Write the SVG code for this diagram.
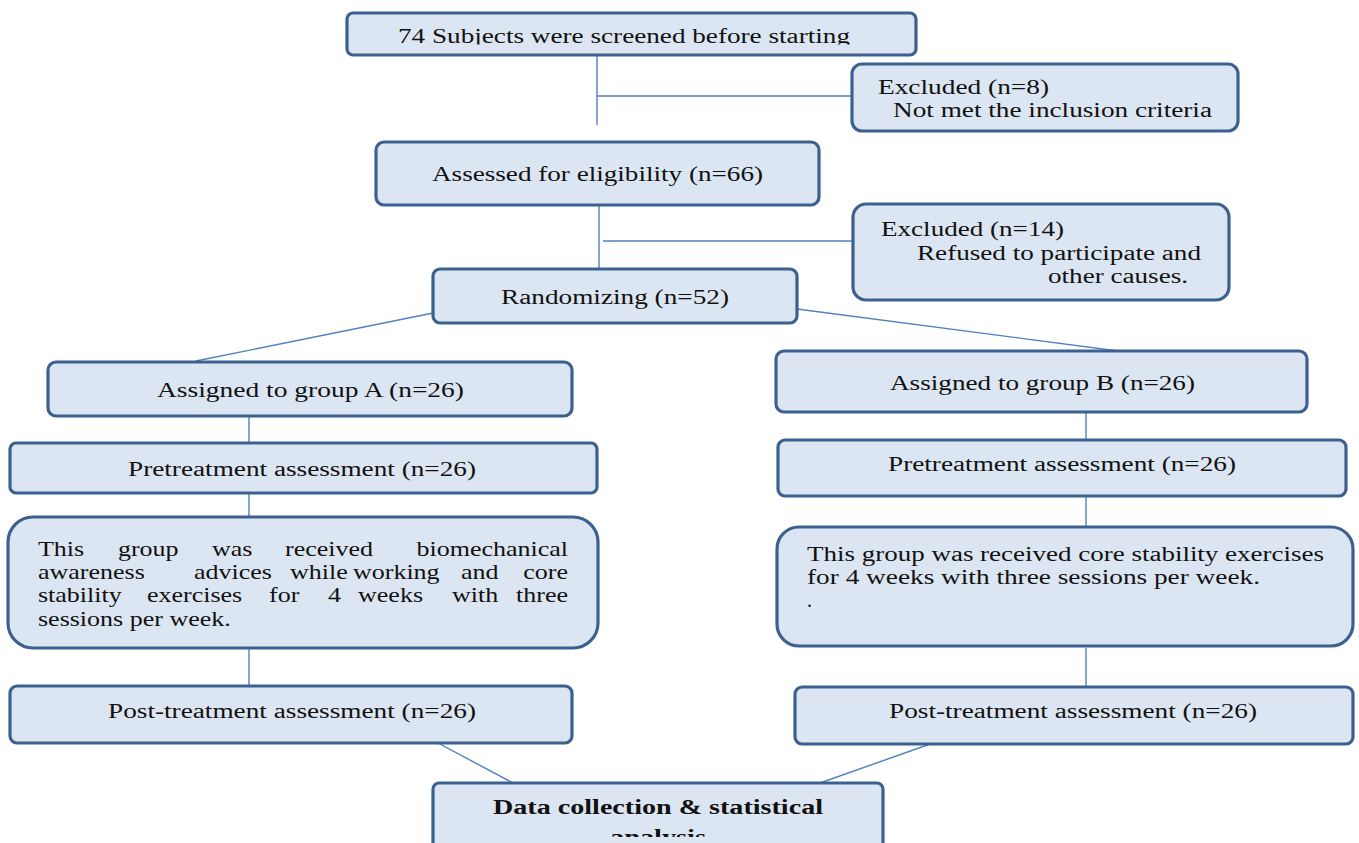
<svg xmlns="http://www.w3.org/2000/svg" width="1359" height="843" viewBox="0 0 1359 843">
<defs>
<style>
.box{fill:#dce6f2;stroke:#3c6190;stroke-width:3.2}
.ln{stroke:#4f81bd;stroke-width:1.4;fill:none}
text{font-family:"Liberation Serif","Times New Roman",serif;font-size:20px;fill:#111}
.c{text-anchor:middle}
.b{font-weight:bold}
</style>
<clipPath id="clip1"><rect x="340" y="10" width="600" height="34.5"/></clipPath>
<clipPath id="clip2"><rect x="430" y="780" width="460" height="57"/></clipPath>
</defs>
<rect width="1359" height="843" fill="#fff"/>
<g id="connectors">
<line class="ln" x1="597" y1="55" x2="597" y2="125"/>
<line class="ln" x1="597" y1="96" x2="852" y2="96"/>
<line class="ln" x1="599" y1="205" x2="599" y2="269"/>
<line class="ln" x1="603" y1="241" x2="853" y2="241"/>
<line class="ln" x1="443" y1="311" x2="196" y2="361"/>
<line class="ln" x1="797" y1="309" x2="1118" y2="351"/>
<line class="ln" x1="249" y1="416" x2="249" y2="443"/>
<line class="ln" x1="249" y1="493" x2="249" y2="518"/>
<line class="ln" x1="249" y1="648" x2="249" y2="686"/>
<line class="ln" x1="1086" y1="412" x2="1086" y2="440"/>
<line class="ln" x1="1086" y1="496" x2="1086" y2="527"/>
<line class="ln" x1="1086" y1="648" x2="1086" y2="687"/>
<line class="ln" x1="438" y1="743" x2="513" y2="783"/>
<line class="ln" x1="933" y1="743" x2="820" y2="783"/>
</g>
<g id="screened">
<rect class="box" x="347" y="13" width="569" height="42" rx="6"/>
<text class="c" x="624" y="43" clip-path="url(#clip1)" textLength="452" lengthAdjust="spacingAndGlyphs">74 Subjects were screened before starting</text>
</g>
<g id="excluded8">
<rect class="box" x="852" y="64" width="386" height="67" rx="10"/>
<text x="878" y="94" textLength="171" lengthAdjust="spacingAndGlyphs">Excluded (n=8)</text>
<text x="893" y="117" textLength="319" lengthAdjust="spacingAndGlyphs">Not met the inclusion criteria</text>
</g>
<g id="assessed">
<rect class="box" x="376" y="142" width="443" height="63" rx="8"/>
<text x="432" y="181" textLength="331" lengthAdjust="spacingAndGlyphs">Assessed for eligibility (n=66)</text>
</g>
<g id="excluded14">
<rect class="box" x="853" y="204" width="376" height="96" rx="13"/>
<text x="881" y="236" textLength="183" lengthAdjust="spacingAndGlyphs">Excluded (n=14)</text>
<text x="917" y="260" textLength="284" lengthAdjust="spacingAndGlyphs">Refused to participate and</text>
<text x="1048" y="283" textLength="140" lengthAdjust="spacingAndGlyphs">other causes.</text>
</g>
<g id="randomizing">
<rect class="box" x="433" y="269" width="364" height="54" rx="7"/>
<text x="501" y="304" textLength="228" lengthAdjust="spacingAndGlyphs">Randomizing (n=52)</text>
</g>
<g id="groupA">
<rect class="box" x="48" y="362" width="524" height="54" rx="8"/>
<text x="157" y="397" textLength="307" lengthAdjust="spacingAndGlyphs">Assigned to group A (n=26)</text>
</g>
<g id="groupB">
<rect class="box" x="776" y="351" width="531" height="61" rx="8"/>
<text x="890" y="390" textLength="305" lengthAdjust="spacingAndGlyphs">Assigned to group B (n=26)</text>
</g>
<g id="preA">
<rect class="box" x="10" y="443" width="587" height="50" rx="6"/>
<text x="128" y="476" textLength="348" lengthAdjust="spacingAndGlyphs">Pretreatment assessment (n=26)</text>
</g>
<g id="preB">
<rect class="box" x="778" y="440" width="568" height="56" rx="7"/>
<text x="888" y="471" textLength="348" lengthAdjust="spacingAndGlyphs">Pretreatment assessment (n=26)</text>
</g>
<g id="treatA">
<rect class="box" x="8" y="517" width="590" height="131" rx="25"/>
<g transform="translate(38,0) scale(1.3,1) translate(-38,0)">
<text y="556"><tspan x="38">This</tspan><tspan x="99.5">group</tspan><tspan x="171.8">was</tspan><tspan x="228">received</tspan><tspan x="445.7" text-anchor="end">biomechanical</tspan></text>
<text y="579"><tspan x="38">awareness</tspan><tspan x="158">advices</tspan><tspan x="231.8">while</tspan><tspan x="280.3">working</tspan><tspan x="363.4">and</tspan><tspan x="445.7" text-anchor="end">core</tspan></text>
<text y="602"><tspan x="38">stability</tspan><tspan x="121.8">exercises</tspan><tspan x="215.7">for</tspan><tspan x="261.1">4</tspan><tspan x="284.2">weeks</tspan><tspan x="356.5">with</tspan><tspan x="445.7" text-anchor="end">three</tspan></text>
<text x="38" y="626">sessions per week.</text>
</g>
</g>
<g id="treatB">
<rect class="box" x="777" y="527" width="576" height="119" rx="22"/>
<text x="807" y="561" textLength="517" lengthAdjust="spacingAndGlyphs">This group was received core stability exercises</text>
<text x="807" y="584" textLength="453" lengthAdjust="spacingAndGlyphs">for 4 weeks with three sessions per week.</text>
<text x="807" y="607">.</text>
</g>
<g id="postA">
<rect class="box" x="10" y="686" width="562" height="57" rx="7"/>
<text x="108" y="718" textLength="368" lengthAdjust="spacingAndGlyphs">Post-treatment assessment (n=26)</text>
</g>
<g id="postB">
<rect class="box" x="795" y="687" width="558" height="57" rx="7"/>
<text x="889" y="718" textLength="368" lengthAdjust="spacingAndGlyphs">Post-treatment assessment (n=26)</text>
</g>
<g id="data">
<rect class="box" x="433" y="783" width="450" height="80" rx="6"/>
<text class="b" x="493" y="814" textLength="330" lengthAdjust="spacingAndGlyphs">Data collection &amp; statistical</text>
<text class="b" x="610" y="844" clip-path="url(#clip2)" textLength="96" lengthAdjust="spacingAndGlyphs">analysis</text>
</g>
</svg>
